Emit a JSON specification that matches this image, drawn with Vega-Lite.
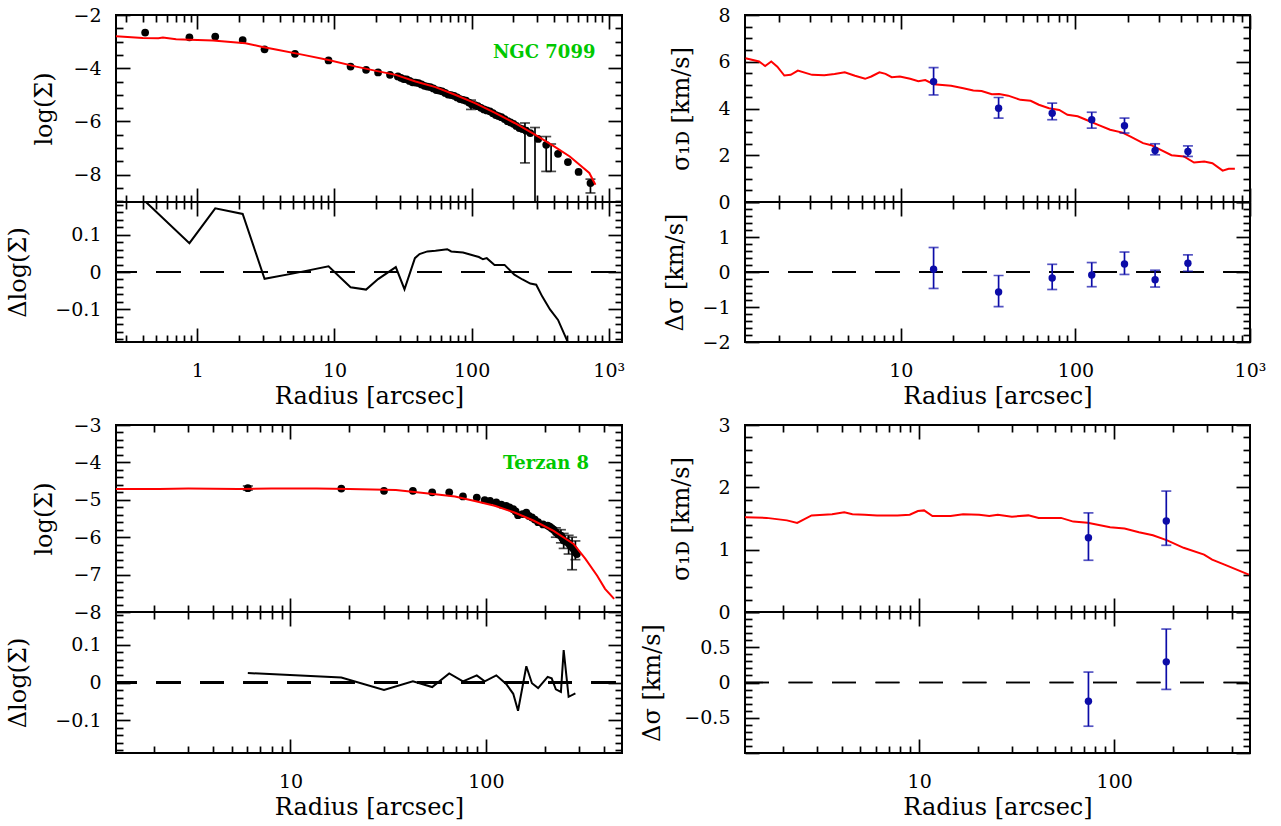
{
"$schema": "https://vega.github.io/schema/vega-lite/v6.json",
"autosize": {"type": "pad"},
"padding": {"left": 5, "top": 5, "right": 5, "bottom": 5},
"background": "white",
"config": {
  "view": {"stroke": "black", "strokeWidth": 2},
  "axis": {"domain": false, "grid": false, "ticks": true, "tickColor": "black", "tickWidth": 1.7,
           "labelFont": "DejaVu Serif", "labelFontSize": 19, "labelColor": "black",
           "titleFont": "DejaVu Serif", "titleFontSize": 24, "titleFontWeight": "normal", "titleColor": "black",
           "labelFlush": false, "labelOverlap": false, "labelBound": false}
},
"datasets": {
  "tl_obs": [{"r":0.416,"v":-2.66},{"r":0.875,"v":-2.84},{"r":1.35,"v":-2.81},{"r":2.14,"v":-2.94},{"r":3.09,"v":-3.29},{"r":5.15,"v":-3.46},{"r":9.05,"v":-3.71},{"r":13.1,"v":-3.94},{"r":17.0,"v":-4.06},{"r":20.8,"v":-4.16},{"r":25.4,"v":-4.25},{"r":29.0,"v":-4.31},{"r":30.5,"v":-4.36},{"r":32.0,"v":-4.41},{"r":33.6,"v":-4.42},{"r":35.3,"v":-4.48},{"r":37.1,"v":-4.53},{"r":39.0,"v":-4.54},{"r":41.0,"v":-4.56},{"r":43.1,"v":-4.61},{"r":45.3,"v":-4.66},{"r":47.6,"v":-4.69},{"r":50.0,"v":-4.71},{"r":52.6,"v":-4.76},{"r":55.3,"v":-4.82},{"r":58.1,"v":-4.84},{"r":61.0,"v":-4.87},{"r":64.2,"v":-4.93},{"r":67.5,"v":-4.99},{"r":71.0,"v":-5.01},{"r":74.6,"v":-5.04},{"r":78.4,"v":-5.10},{"r":82.4,"v":-5.16},{"r":86.6,"v":-5.19},{"r":91.0,"v":-5.22},{"r":95.7,"v":-5.29},{"r":100.5,"v":-5.36},{"r":106,"v":-5.39},{"r":111,"v":-5.43},{"r":117,"v":-5.49},{"r":123,"v":-5.55},{"r":129,"v":-5.59},{"r":136,"v":-5.62},{"r":143,"v":-5.69},{"r":150,"v":-5.76},{"r":157,"v":-5.80},{"r":165,"v":-5.84},{"r":174,"v":-5.91},{"r":183,"v":-5.99},{"r":192,"v":-6.04},{"r":202,"v":-6.09},{"r":212,"v":-6.17},{"r":223,"v":-6.25},{"r":235,"v":-6.29},{"r":250,"v":-6.35},{"r":268,"v":-6.44},{"r":306,"v":-6.66},{"r":350,"v":-6.88},{"r":427,"v":-7.22},{"r":504,"v":-7.53},{"r":603,"v":-7.90},{"r":736,"v":-8.32}],
  "tl_err": [{"r":99,"lo":-5.55,"hi":-5.20},{"r":245,"lo":-7.56,"hi":-6.06},{"r":290,"lo":-9.5,"hi":-6.23},{"r":350,"lo":-7.88,"hi":-6.57},{"r":380,"lo":-7.88,"hi":-6.85},{"r":736,"lo":-8.69,"hi":-8.17}],
  "tl_model": [{"r":0.255,"v":-2.80},{"r":0.40,"v":-2.86},{"r":0.52,"v":-2.87},{"r":0.56,"v":-2.85},{"r":0.70,"v":-2.91},{"r":0.88,"v":-2.93},{"r":1.3,"v":-2.96},{"r":2.24,"v":-3.06},{"r":2.93,"v":-3.19},{"r":3.82,"v":-3.31},{"r":5.69,"v":-3.48},{"r":9.05,"v":-3.69},{"r":14.4,"v":-3.94},{"r":20.1,"v":-4.10},{"r":28.0,"v":-4.25},{"r":39.0,"v":-4.50},{"r":54.5,"v":-4.71},{"r":75.8,"v":-5.00},{"r":106,"v":-5.31},{"r":147,"v":-5.67},{"r":206,"v":-6.06},{"r":286,"v":-6.48},{"r":400,"v":-6.94},{"r":520,"v":-7.32},{"r":613,"v":-7.63},{"r":722,"v":-7.94},{"r":800,"v":-8.38}],
  "tl_res": [{"r":0.413,"v":0.19},{"r":0.875,"v":0.077},{"r":1.35,"v":0.170},{"r":2.14,"v":0.155},{"r":3.09,"v":-0.018},{"r":5.15,"v":-0.003},{"r":9.05,"v":0.015},{"r":13.1,"v":-0.041},{"r":17.0,"v":-0.047},{"r":20.8,"v":-0.019},{"r":28.0,"v":0.013},{"r":32.4,"v":-0.046},{"r":38.6,"v":0.037},{"r":41.7,"v":0.048},{"r":47.6,"v":0.055},{"r":54.5,"v":0.057},{"r":66.4,"v":0.061},{"r":71.0,"v":0.055},{"r":86.6,"v":0.052},{"r":98.9,"v":0.046},{"r":113,"v":0.040},{"r":121,"v":0.034},{"r":129,"v":0.037},{"r":147,"v":0.019},{"r":174,"v":0.019},{"r":205,"v":-0.007},{"r":235,"v":-0.020},{"r":268,"v":-0.031},{"r":296,"v":-0.034},{"r":327,"v":-0.065},{"r":373,"v":-0.100},{"r":427,"v":-0.128},{"r":504,"v":-0.188},{"r":603,"v":-0.28},{"r":736,"v":-0.38}],
  "tr_obs": [{"r":15.4,"v":5.15,"lo":4.58,"hi":5.75},{"r":36.3,"v":4.01,"lo":3.59,"hi":4.47},{"r":73.6,"v":3.80,"lo":3.52,"hi":4.23},{"r":124,"v":3.52,"lo":3.16,"hi":3.84},{"r":191,"v":3.26,"lo":2.95,"hi":3.59},{"r":286,"v":2.20,"lo":2.02,"hi":2.49},{"r":441,"v":2.16,"lo":1.95,"hi":2.40}],
  "tr_res": [{"r":15.4,"v":0.08,"lo":-0.47,"hi":0.70},{"r":36.3,"v":-0.57,"lo":-0.99,"hi":-0.10},{"r":73.6,"v":-0.17,"lo":-0.50,"hi":0.22},{"r":124,"v":-0.085,"lo":-0.42,"hi":0.27},{"r":191,"v":0.23,"lo":-0.07,"hi":0.57},{"r":286,"v":-0.22,"lo":-0.43,"hi":0.05},{"r":441,"v":0.25,"lo":0.02,"hi":0.49}],
  "tr_model": [{"r":1.29,"v":6.15},{"r":1.54,"v":6.01},{"r":1.67,"v":5.82},{"r":1.81,"v":6.01},{"r":1.96,"v":5.79},{"r":2.15,"v":5.41},{"r":2.34,"v":5.44},{"r":2.57,"v":5.62},{"r":3.10,"v":5.44},{"r":3.64,"v":5.42},{"r":4.17,"v":5.48},{"r":4.77,"v":5.55},{"r":5.46,"v":5.40},{"r":6.24,"v":5.27},{"r":6.77,"v":5.37},{"r":7.54,"v":5.55},{"r":8.17,"v":5.48},{"r":8.86,"v":5.34},{"r":9.87,"v":5.37},{"r":11.3,"v":5.27},{"r":12.6,"v":5.17},{"r":13.8,"v":5.22},{"r":15.4,"v":5.04},{"r":19.4,"v":4.97},{"r":22.8,"v":4.87},{"r":26.0,"v":4.77},{"r":29.0,"v":4.75},{"r":33.2,"v":4.61},{"r":36.6,"v":4.62},{"r":41.2,"v":4.55},{"r":48.4,"v":4.37},{"r":55.4,"v":4.33},{"r":61.7,"v":4.16},{"r":70.6,"v":4.01},{"r":80.8,"v":3.94},{"r":90.0,"v":3.73},{"r":103,"v":3.67},{"r":115,"v":3.52},{"r":135,"v":3.30},{"r":158,"v":3.09},{"r":186,"v":2.97},{"r":207,"v":2.80},{"r":244,"v":2.52},{"r":272,"v":2.43},{"r":302,"v":2.26},{"r":355,"v":2.00},{"r":418,"v":1.95},{"r":478,"v":1.69},{"r":547,"v":1.73},{"r":609,"v":1.66},{"r":697,"v":1.34},{"r":755,"v":1.42},{"r":819,"v":1.42}],
  "bl_obs": [{"r":6.05,"v":-4.69},{"r":18.2,"v":-4.70},{"r":30.1,"v":-4.76},{"r":42.3,"v":-4.76},{"r":53.1,"v":-4.80},{"r":64.9,"v":-4.80},{"r":76.3,"v":-4.91},{"r":89.8,"v":-4.94},{"r":98.6,"v":-5.01},{"r":105,"v":-5.03},{"r":113,"v":-5.07},{"r":120,"v":-5.13},{"r":127,"v":-5.16},{"r":132,"v":-5.20},{"r":138,"v":-5.25},{"r":142,"v":-5.31},{"r":146,"v":-5.41},{"r":154,"v":-5.38},{"r":161,"v":-5.34},{"r":166,"v":-5.43},{"r":172,"v":-5.47},{"r":178,"v":-5.53},{"r":185,"v":-5.60},{"r":196,"v":-5.66},{"r":207,"v":-5.69},{"r":212,"v":-5.72},{"r":217,"v":-5.76},{"r":222,"v":-5.80},{"r":228,"v":-5.87},{"r":235,"v":-5.93},{"r":242,"v":-5.96},{"r":246,"v":-6.02},{"r":250,"v":-6.09},{"r":258,"v":-6.12},{"r":265,"v":-6.16},{"r":270,"v":-6.22},{"r":276,"v":-6.27},{"r":282,"v":-6.33},{"r":287,"v":-6.40},{"r":292,"v":-6.45}],
  "bl_err": [{"r":6.05,"lo":-4.74,"hi":-4.63},{"r":228,"lo":-6.00,"hi":-5.75},{"r":242,"lo":-6.15,"hi":-5.80},{"r":250,"lo":-6.30,"hi":-5.90},{"r":265,"lo":-6.45,"hi":-5.95},{"r":276,"lo":-6.87,"hi":-6.00},{"r":287,"lo":-6.60,"hi":-6.10}],
  "bl_model": [{"r":1.28,"v":-4.71},{"r":2.13,"v":-4.71},{"r":3.0,"v":-4.70},{"r":5.4,"v":-4.71},{"r":8.0,"v":-4.70},{"r":13.6,"v":-4.70},{"r":20,"v":-4.71},{"r":34.6,"v":-4.74},{"r":55.1,"v":-4.85},{"r":69.5,"v":-4.91},{"r":87.7,"v":-5.03},{"r":111,"v":-5.16},{"r":140,"v":-5.34},{"r":176,"v":-5.56},{"r":222,"v":-5.83},{"r":281,"v":-6.18},{"r":323,"v":-6.58},{"r":371,"v":-7.03},{"r":407,"v":-7.38},{"r":453,"v":-7.65}],
  "bl_res": [{"r":6.05,"v":0.025},{"r":18.2,"v":0.013},{"r":30.1,"v":-0.020},{"r":42.3,"v":0.003},{"r":53.1,"v":-0.012},{"r":64.9,"v":0.024},{"r":76.3,"v":0.003},{"r":89.8,"v":0.019},{"r":98.6,"v":0.003},{"r":113,"v":0.019},{"r":127,"v":-0.004},{"r":138,"v":-0.030},{"r":146,"v":-0.075},{"r":161,"v":0.043},{"r":172,"v":-0.002},{"r":185,"v":-0.015},{"r":207,"v":0.015},{"r":217,"v":0.011},{"r":228,"v":-0.018},{"r":242,"v":-0.025},{"r":250,"v":0.086},{"r":265,"v":-0.038},{"r":287,"v":-0.029}],
  "br_obs": [{"r":73.8,"v":1.19,"lo":0.83,"hi":1.59},{"r":185,"v":1.46,"lo":1.07,"hi":1.94}],
  "br_res": [{"r":73.8,"v":-0.265,"lo":-0.62,"hi":0.148},{"r":185,"v":0.293,"lo":-0.098,"hi":0.758}],
  "br_model": [{"r":1.28,"v":1.52},{"r":1.65,"v":1.51},{"r":2.10,"v":1.47},{"r":2.37,"v":1.43},{"r":2.81,"v":1.55},{"r":3.58,"v":1.57},{"r":4.13,"v":1.60},{"r":4.55,"v":1.57},{"r":5.26,"v":1.56},{"r":6.08,"v":1.55},{"r":7.74,"v":1.55},{"r":8.95,"v":1.56},{"r":9.86,"v":1.62},{"r":10.6,"v":1.63},{"r":11.7,"v":1.54},{"r":14.5,"v":1.54},{"r":16.8,"v":1.57},{"r":20.3,"v":1.56},{"r":22.9,"v":1.54},{"r":25.3,"v":1.56},{"r":29.9,"v":1.53},{"r":36.3,"v":1.55},{"r":41.0,"v":1.51},{"r":53.4,"v":1.51},{"r":61.7,"v":1.45},{"r":73.1,"v":1.43},{"r":95.3,"v":1.36},{"r":113,"v":1.34},{"r":134,"v":1.28},{"r":158,"v":1.23},{"r":187,"v":1.15},{"r":227,"v":1.03},{"r":289,"v":0.92},{"r":318,"v":0.84},{"r":368,"v":0.76},{"r":490,"v":0.60}]
},
"columns": 2,
"spacing": {"row": 0, "column": 123},
"bounds": "flush",
"concat": [
   {"width": 506, "height": 187,
    "layer": [
     {"data": {"name": "tl_err"}, "mark": {"type": "rule", "color": "black", "strokeWidth": 1.7, "clip": true},
      "encoding": {
       "x": {"field": "r", "type": "quantitative", "scale": {"type": "log", "domain": [0.255, 1250], "nice": false},
             "axis": {"orient": "bottom", "values": [0.3,0.4,0.5,0.6,0.7,0.8,0.9,1,2,3,4,5,6,7,8,9,10,20,30,40,50,60,70,80,90,100,200,300,400,500,600,700,800,900,1000], "tickSize": {"condition": {"test": "indexof([1,10,100,1000],datum.value)>=0", "value": -14}, "value": -7}, "labels": false, "title": null}},
       "y": {"field": "lo", "type": "quantitative", "scale": {"domain": [-9.03, -2], "nice": false, "zero": false},
             "axis": {"orient": "left", "values": [-9,-8.5,-8,-7.5,-7,-6.5,-6,-5.5,-5,-4.5,-4,-3.5,-3,-2.5,-2], "tickSize": {"condition": {"test": "datum.value%2==0", "value": -14}, "value": -7}, "labelExpr": "datum.value%2==0?format(datum.value,'d'):''", "labelPadding": 29, "title": "log(Σ)", "titleX": -60}},
       "y2": {"field": "hi"}}},
     {"data": {"name": "tl_err"}, "mark": {"type": "tick", "orient": "horizontal", "size": 10, "thickness": 1.7, "color": "black", "clip": true},
      "encoding": {
       "x": {"field": "r", "type": "quantitative", "scale": {"type": "log", "domain": [0.255, 1250], "nice": false},
             "axis": {"orient": "top", "values": [0.3,0.4,0.5,0.6,0.7,0.8,0.9,1,2,3,4,5,6,7,8,9,10,20,30,40,50,60,70,80,90,100,200,300,400,500,600,700,800,900,1000], "tickSize": {"condition": {"test": "indexof([1,10,100,1000],datum.value)>=0", "value": -14}, "value": -7}, "labels": false, "title": null}},
       "y": {"field": "lo", "type": "quantitative", "scale": {"domain": [-9.03, -2], "nice": false, "zero": false},
             "axis": {"orient": "right", "values": [-9,-8.5,-8,-7.5,-7,-6.5,-6,-5.5,-5,-4.5,-4,-3.5,-3,-2.5,-2], "tickSize": {"condition": {"test": "datum.value%2==0", "value": -14}, "value": -7}, "labels": false, "title": null}}}},
     {"data": {"name": "tl_err"}, "mark": {"type": "tick", "orient": "horizontal", "size": 10, "thickness": 1.7, "color": "black", "clip": true},
      "encoding": {"x": {"field": "r", "type": "quantitative", "axis": null}, "y": {"field": "hi", "type": "quantitative", "axis": null}}},
     {"data": {"name": "tl_obs"}, "mark": {"type": "circle", "size": 60, "color": "black", "opacity": 1, "clip": true},
      "encoding": {"x": {"field": "r", "type": "quantitative", "axis": null}, "y": {"field": "v", "type": "quantitative", "axis": null}}},
     {"data": {"name": "tl_model"}, "mark": {"type": "line", "color": "#ff0000", "strokeWidth": 2, "clip": true},
      "encoding": {"x": {"field": "r", "type": "quantitative", "axis": null}, "y": {"field": "v", "type": "quantitative", "axis": null}}},
     {"data": {"values": [{"name": "NGC 7099"}]}, "mark": {"type": "text", "color": "#00c800", "font": "DejaVu Serif", "fontSize": 18, "fontWeight": "bold", "align": "right", "baseline": "middle"},
      "encoding": {"x": {"datum": 800, "type": "quantitative", "axis": null}, "y": {"datum": -3.43, "type": "quantitative", "axis": null}, "text": {"field": "name"}}}
    ],
    "resolve": {"axis": {"x": "independent", "y": "independent"}}},
   {"width": 505, "height": 187,
    "layer": [
     {"data": {"name": "tr_model"}, "mark": {"type": "line", "color": "#ff0000", "strokeWidth": 2, "clip": true},
      "encoding": {
       "x": {"field": "r", "type": "quantitative", "scale": {"type": "log", "domain": [1.28, 1000], "nice": false},
             "axis": {"orient": "bottom", "values": [2,3,4,5,6,7,8,9,10,20,30,40,50,60,70,80,90,100,200,300,400,500,600,700,800,900,1000], "tickSize": {"condition": {"test": "indexof([1,10,100,1000],datum.value)>=0", "value": -14}, "value": -7}, "labels": false, "title": null}},
       "y": {"field": "v", "type": "quantitative", "scale": {"domain": [0, 8], "nice": false, "zero": false},
             "axis": {"orient": "left", "values": [0,0.5,1,1.5,2,2.5,3,3.5,4,4.5,5,5.5,6,6.5,7,7.5,8], "tickSize": {"condition": {"test": "datum.value%2==0", "value": -14}, "value": -7}, "labelExpr": "datum.value%2==0?format(datum.value,'d'):''", "labelPadding": 29, "title": "σ₁ᴅ  [km/s]", "titleX": -52}}}},
     {"data": {"name": "tr_obs"}, "mark": {"type": "rule", "color": "#0c0ca8", "strokeWidth": 1.7},
      "encoding": {
       "x": {"field": "r", "type": "quantitative", "scale": {"type": "log", "domain": [1.28, 1000], "nice": false},
             "axis": {"orient": "top", "values": [2,3,4,5,6,7,8,9,10,20,30,40,50,60,70,80,90,100,200,300,400,500,600,700,800,900,1000], "tickSize": {"condition": {"test": "indexof([1,10,100,1000],datum.value)>=0", "value": -14}, "value": -7}, "labels": false, "title": null}},
       "y": {"field": "lo", "type": "quantitative", "scale": {"domain": [0, 8], "nice": false, "zero": false},
             "axis": {"orient": "right", "values": [0,0.5,1,1.5,2,2.5,3,3.5,4,4.5,5,5.5,6,6.5,7,7.5,8], "tickSize": {"condition": {"test": "datum.value%2==0", "value": -14}, "value": -7}, "labels": false, "title": null}},
       "y2": {"field": "hi"}}},
     {"data": {"name": "tr_obs"}, "mark": {"type": "tick", "orient": "horizontal", "size": 10, "thickness": 1.7, "color": "#0c0ca8"},
      "encoding": {"x": {"field": "r", "type": "quantitative", "axis": null}, "y": {"field": "lo", "type": "quantitative", "axis": null}}},
     {"data": {"name": "tr_obs"}, "mark": {"type": "tick", "orient": "horizontal", "size": 10, "thickness": 1.7, "color": "#0c0ca8"},
      "encoding": {"x": {"field": "r", "type": "quantitative", "axis": null}, "y": {"field": "hi", "type": "quantitative", "axis": null}}},
     {"data": {"name": "tr_obs"}, "mark": {"type": "circle", "size": 55, "color": "#0c0ca8", "opacity": 1},
      "encoding": {"x": {"field": "r", "type": "quantitative", "axis": null}, "y": {"field": "v", "type": "quantitative", "axis": null}}}
    ],
    "resolve": {"axis": {"x": "independent", "y": "independent"}}},
   {"width": 506, "height": 140,
    "layer": [
     {"data": {"name": "tl_res"}, "mark": {"type": "rule", "color": "black", "strokeWidth": 1.7, "strokeDash": [24, 19.5], "strokeDashOffset": 3},
      "encoding": {
       "x": {"datum": 0.255, "type": "quantitative", "scale": {"type": "log", "domain": [0.255, 1250], "nice": false},
             "axis": {"orient": "top", "values": [0.3,0.4,0.5,0.6,0.7,0.8,0.9,1,2,3,4,5,6,7,8,9,10,20,30,40,50,60,70,80,90,100,200,300,400,500,600,700,800,900,1000], "tickSize": {"condition": {"test": "indexof([1,10,100,1000],datum.value)>=0", "value": -14}, "value": -7}, "labels": false, "title": null}},
       "x2": {"datum": 1250},
       "y": {"datum": 0, "type": "quantitative", "scale": {"domain": [-0.187, 0.187], "nice": false, "zero": false},
             "axis": {"orient": "right", "values": [-0.18,-0.16,-0.14,-0.12,-0.1,-0.08,-0.06,-0.04,-0.02,0,0.02,0.04,0.06,0.08,0.1,0.12,0.14,0.16,0.18], "tickSize": {"condition": {"test": "abs(datum.value)<1e-9||abs(abs(datum.value)-0.1)<1e-9", "value": -14}, "value": -7}, "labels": false, "title": null}}}},
     {"data": {"name": "tl_res"}, "mark": {"type": "line", "color": "black", "strokeWidth": 2, "clip": true},
      "encoding": {
       "x": {"field": "r", "type": "quantitative", "scale": {"type": "log", "domain": [0.255, 1250], "nice": false},
             "axis": {"orient": "bottom", "values": [0.3,0.4,0.5,0.6,0.7,0.8,0.9,1,2,3,4,5,6,7,8,9,10,20,30,40,50,60,70,80,90,100,200,300,400,500,600,700,800,900,1000], "tickSize": {"condition": {"test": "indexof([1,10,100,1000],datum.value)>=0", "value": -14}, "value": -7}, "labelExpr": "datum.value==1000?'10³':(indexof([1,10,100],datum.value)>=0?''+datum.value:'')", "labelPadding": 33, "title": "Radius [arcsec]", "titlePadding": -3}},
       "y": {"field": "v", "type": "quantitative", "scale": {"domain": [-0.187, 0.187], "nice": false, "zero": false},
             "axis": {"orient": "left", "values": [-0.18,-0.16,-0.14,-0.12,-0.1,-0.08,-0.06,-0.04,-0.02,0,0.02,0.04,0.06,0.08,0.1,0.12,0.14,0.16,0.18], "tickSize": {"condition": {"test": "abs(datum.value)<1e-9||abs(abs(datum.value)-0.1)<1e-9", "value": -14}, "value": -7}, "labelExpr": "(abs(datum.value)<1e-9||abs(abs(datum.value)-0.1)<1e-9)?format(datum.value,'.1~f'):''", "labelPadding": 29, "title": "Δlog(Σ)", "titleX": -86}}}}
    ],
    "resolve": {"axis": {"x": "independent", "y": "independent"}}},
   {"width": 505, "height": 140,
    "layer": [
     {"data": {"name": "tr_res"}, "mark": {"type": "rule", "color": "black", "strokeWidth": 1.7, "strokeDash": [24, 19.5]},
      "encoding": {
       "x": {"datum": 1.28, "type": "quantitative", "scale": {"type": "log", "domain": [1.28, 1000], "nice": false},
             "axis": {"orient": "top", "values": [2,3,4,5,6,7,8,9,10,20,30,40,50,60,70,80,90,100,200,300,400,500,600,700,800,900,1000], "tickSize": {"condition": {"test": "indexof([1,10,100,1000],datum.value)>=0", "value": -14}, "value": -7}, "labels": false, "title": null}},
       "x2": {"datum": 1000},
       "y": {"datum": 0, "type": "quantitative", "scale": {"domain": [-2, 2], "nice": false, "zero": false},
             "axis": {"orient": "right", "values": [-2,-1.8,-1.6,-1.4,-1.2,-1,-0.8,-0.6,-0.4,-0.2,0,0.2,0.4,0.6,0.8,1,1.2,1.4,1.6,1.8,2], "tickSize": {"condition": {"test": "abs(datum.value-round(datum.value))<1e-9", "value": -14}, "value": -7}, "labels": false, "title": null}}}},
     {"data": {"name": "tr_res"}, "mark": {"type": "rule", "color": "#0c0ca8", "strokeWidth": 1.7},
      "encoding": {
       "x": {"field": "r", "type": "quantitative", "scale": {"type": "log", "domain": [1.28, 1000], "nice": false},
             "axis": {"orient": "bottom", "values": [2,3,4,5,6,7,8,9,10,20,30,40,50,60,70,80,90,100,200,300,400,500,600,700,800,900,1000], "tickSize": {"condition": {"test": "indexof([1,10,100,1000],datum.value)>=0", "value": -14}, "value": -7}, "labelExpr": "datum.value==1000?'10³':(indexof([1,10,100],datum.value)>=0?''+datum.value:'')", "labelPadding": 33, "title": "Radius [arcsec]", "titlePadding": -3}},
       "y": {"field": "lo", "type": "quantitative", "scale": {"domain": [-2, 2], "nice": false, "zero": false},
             "axis": {"orient": "left", "values": [-2,-1.8,-1.6,-1.4,-1.2,-1,-0.8,-0.6,-0.4,-0.2,0,0.2,0.4,0.6,0.8,1,1.2,1.4,1.6,1.8,2], "tickSize": {"condition": {"test": "abs(datum.value-round(datum.value))<1e-9", "value": -14}, "value": -7}, "labelExpr": "abs(datum.value-round(datum.value))<1e-9&&datum.value<1.5?format(datum.value,'d'):''", "labelPadding": 29, "title": "Δσ  [km/s]", "titleX": -58}},
       "y2": {"field": "hi"}}},
     {"data": {"name": "tr_res"}, "mark": {"type": "tick", "orient": "horizontal", "size": 10, "thickness": 1.7, "color": "#0c0ca8"},
      "encoding": {"x": {"field": "r", "type": "quantitative", "axis": null}, "y": {"field": "lo", "type": "quantitative", "axis": null}}},
     {"data": {"name": "tr_res"}, "mark": {"type": "tick", "orient": "horizontal", "size": 10, "thickness": 1.7, "color": "#0c0ca8"},
      "encoding": {"x": {"field": "r", "type": "quantitative", "axis": null}, "y": {"field": "hi", "type": "quantitative", "axis": null}}},
     {"data": {"name": "tr_res"}, "mark": {"type": "circle", "size": 55, "color": "#0c0ca8", "opacity": 1},
      "encoding": {"x": {"field": "r", "type": "quantitative", "axis": null}, "y": {"field": "v", "type": "quantitative", "axis": null}}}
    ],
    "resolve": {"axis": {"x": "independent", "y": "independent"}}},
   {"width": 506, "height": 83, "data": {"values": []}, "mark": {"type": "point", "opacity": 0}, "view": {"stroke": null}},
   {"width": 505, "height": 83, "data": {"values": []}, "mark": {"type": "point", "opacity": 0}, "view": {"stroke": null}},
   {"width": 506, "height": 187,
    "layer": [
     {"data": {"name": "bl_err"}, "mark": {"type": "rule", "color": "black", "strokeWidth": 1.7, "clip": true},
      "encoding": {
       "x": {"field": "r", "type": "quantitative", "scale": {"type": "log", "domain": [1.28, 497], "nice": false},
             "axis": {"orient": "bottom", "values": [2,3,4,5,6,7,8,9,10,20,30,40,50,60,70,80,90,100,200,300,400], "tickSize": {"condition": {"test": "indexof([1,10,100,1000],datum.value)>=0", "value": -14}, "value": -7}, "labels": false, "title": null}},
       "y": {"field": "lo", "type": "quantitative", "scale": {"domain": [-8, -3], "nice": false, "zero": false},
             "axis": {"orient": "left", "values": [-8,-7.8,-7.6,-7.4,-7.2,-7,-6.8,-6.6,-6.4,-6.2,-6,-5.8,-5.6,-5.4,-5.2,-5,-4.8,-4.6,-4.4,-4.2,-4,-3.8,-3.6,-3.4,-3.2,-3], "tickSize": {"condition": {"test": "abs(datum.value-round(datum.value))<1e-9", "value": -14}, "value": -7}, "labelExpr": "abs(datum.value-round(datum.value))<1e-9?format(datum.value,'d'):''", "labelPadding": 29, "title": "log(Σ)", "titleX": -60}},
       "y2": {"field": "hi"}}},
     {"data": {"name": "bl_err"}, "mark": {"type": "tick", "orient": "horizontal", "size": 10, "thickness": 1.7, "color": "black", "clip": true},
      "encoding": {
       "x": {"field": "r", "type": "quantitative", "scale": {"type": "log", "domain": [1.28, 497], "nice": false},
             "axis": {"orient": "top", "values": [2,3,4,5,6,7,8,9,10,20,30,40,50,60,70,80,90,100,200,300,400], "tickSize": {"condition": {"test": "indexof([1,10,100,1000],datum.value)>=0", "value": -14}, "value": -7}, "labels": false, "title": null}},
       "y": {"field": "lo", "type": "quantitative", "scale": {"domain": [-8, -3], "nice": false, "zero": false},
             "axis": {"orient": "right", "values": [-8,-7.8,-7.6,-7.4,-7.2,-7,-6.8,-6.6,-6.4,-6.2,-6,-5.8,-5.6,-5.4,-5.2,-5,-4.8,-4.6,-4.4,-4.2,-4,-3.8,-3.6,-3.4,-3.2,-3], "tickSize": {"condition": {"test": "abs(datum.value-round(datum.value))<1e-9", "value": -14}, "value": -7}, "labels": false, "title": null}}}},
     {"data": {"name": "bl_err"}, "mark": {"type": "tick", "orient": "horizontal", "size": 10, "thickness": 1.7, "color": "black", "clip": true},
      "encoding": {"x": {"field": "r", "type": "quantitative", "axis": null}, "y": {"field": "hi", "type": "quantitative", "axis": null}}},
     {"data": {"name": "bl_obs"}, "mark": {"type": "circle", "size": 60, "color": "black", "opacity": 1, "clip": true},
      "encoding": {"x": {"field": "r", "type": "quantitative", "axis": null}, "y": {"field": "v", "type": "quantitative", "axis": null}}},
     {"data": {"name": "bl_model"}, "mark": {"type": "line", "color": "#ff0000", "strokeWidth": 2, "clip": true},
      "encoding": {"x": {"field": "r", "type": "quantitative", "axis": null}, "y": {"field": "v", "type": "quantitative", "axis": null}}},
     {"data": {"values": [{"name": "Terzan 8"}]}, "mark": {"type": "text", "color": "#00c800", "font": "DejaVu Serif", "fontSize": 18, "fontWeight": "bold", "align": "right", "baseline": "middle"},
      "encoding": {"x": {"datum": 337, "type": "quantitative", "axis": null}, "y": {"datum": -4.03, "type": "quantitative", "axis": null}, "text": {"field": "name"}}}
    ],
    "resolve": {"axis": {"x": "independent", "y": "independent"}}},
   {"width": 505, "height": 187,
    "layer": [
     {"data": {"name": "br_model"}, "mark": {"type": "line", "color": "#ff0000", "strokeWidth": 2, "clip": true},
      "encoding": {
       "x": {"field": "r", "type": "quantitative", "scale": {"type": "log", "domain": [1.28, 497], "nice": false},
             "axis": {"orient": "bottom", "values": [2,3,4,5,6,7,8,9,10,20,30,40,50,60,70,80,90,100,200,300,400], "tickSize": {"condition": {"test": "indexof([1,10,100,1000],datum.value)>=0", "value": -14}, "value": -7}, "labels": false, "title": null}},
       "y": {"field": "v", "type": "quantitative", "scale": {"domain": [0, 3], "nice": false, "zero": false},
             "axis": {"orient": "left", "values": [0,0.2,0.4,0.6,0.8,1,1.2,1.4,1.6,1.8,2,2.2,2.4,2.6,2.8,3], "tickSize": {"condition": {"test": "abs(datum.value-round(datum.value))<1e-9", "value": -14}, "value": -7}, "labelExpr": "abs(datum.value-round(datum.value))<1e-9?format(datum.value,'d'):''", "labelPadding": 29, "title": "σ₁ᴅ  [km/s]", "titleX": -52}}}},
     {"data": {"name": "br_obs"}, "mark": {"type": "rule", "color": "#0c0ca8", "strokeWidth": 1.7},
      "encoding": {
       "x": {"field": "r", "type": "quantitative", "scale": {"type": "log", "domain": [1.28, 497], "nice": false},
             "axis": {"orient": "top", "values": [2,3,4,5,6,7,8,9,10,20,30,40,50,60,70,80,90,100,200,300,400], "tickSize": {"condition": {"test": "indexof([1,10,100,1000],datum.value)>=0", "value": -14}, "value": -7}, "labels": false, "title": null}},
       "y": {"field": "lo", "type": "quantitative", "scale": {"domain": [0, 3], "nice": false, "zero": false},
             "axis": {"orient": "right", "values": [0,0.2,0.4,0.6,0.8,1,1.2,1.4,1.6,1.8,2,2.2,2.4,2.6,2.8,3], "tickSize": {"condition": {"test": "abs(datum.value-round(datum.value))<1e-9", "value": -14}, "value": -7}, "labels": false, "title": null}},
       "y2": {"field": "hi"}}},
     {"data": {"name": "br_obs"}, "mark": {"type": "tick", "orient": "horizontal", "size": 10, "thickness": 1.7, "color": "#0c0ca8"},
      "encoding": {"x": {"field": "r", "type": "quantitative", "axis": null}, "y": {"field": "lo", "type": "quantitative", "axis": null}}},
     {"data": {"name": "br_obs"}, "mark": {"type": "tick", "orient": "horizontal", "size": 10, "thickness": 1.7, "color": "#0c0ca8"},
      "encoding": {"x": {"field": "r", "type": "quantitative", "axis": null}, "y": {"field": "hi", "type": "quantitative", "axis": null}}},
     {"data": {"name": "br_obs"}, "mark": {"type": "circle", "size": 55, "color": "#0c0ca8", "opacity": 1},
      "encoding": {"x": {"field": "r", "type": "quantitative", "axis": null}, "y": {"field": "v", "type": "quantitative", "axis": null}}}
    ],
    "resolve": {"axis": {"x": "independent", "y": "independent"}}},
   {"width": 506, "height": 141,
    "layer": [
     {"data": {"name": "bl_res"}, "mark": {"type": "rule", "color": "black", "strokeWidth": 1.7, "strokeDash": [24, 19.5], "strokeDashOffset": 3},
      "encoding": {
       "x": {"datum": 1.28, "type": "quantitative", "scale": {"type": "log", "domain": [1.28, 497], "nice": false},
             "axis": {"orient": "top", "values": [2,3,4,5,6,7,8,9,10,20,30,40,50,60,70,80,90,100,200,300,400], "tickSize": {"condition": {"test": "indexof([1,10,100,1000],datum.value)>=0", "value": -14}, "value": -7}, "labels": false, "title": null}},
       "x2": {"datum": 497},
       "y": {"datum": 0, "type": "quantitative", "scale": {"domain": [-0.187, 0.187], "nice": false, "zero": false},
             "axis": {"orient": "right", "values": [-0.18,-0.16,-0.14,-0.12,-0.1,-0.08,-0.06,-0.04,-0.02,0,0.02,0.04,0.06,0.08,0.1,0.12,0.14,0.16,0.18], "tickSize": {"condition": {"test": "abs(datum.value)<1e-9||abs(abs(datum.value)-0.1)<1e-9", "value": -14}, "value": -7}, "labels": false, "title": null}}}},
     {"data": {"name": "bl_res"}, "mark": {"type": "line", "color": "black", "strokeWidth": 2, "clip": true},
      "encoding": {
       "x": {"field": "r", "type": "quantitative", "scale": {"type": "log", "domain": [1.28, 497], "nice": false},
             "axis": {"orient": "bottom", "values": [2,3,4,5,6,7,8,9,10,20,30,40,50,60,70,80,90,100,200,300,400], "tickSize": {"condition": {"test": "indexof([1,10,100,1000],datum.value)>=0", "value": -14}, "value": -7}, "labelExpr": "indexof([10,100],datum.value)>=0?''+datum.value:''", "labelPadding": 33, "title": "Radius [arcsec]", "titlePadding": -3}},
       "y": {"field": "v", "type": "quantitative", "scale": {"domain": [-0.187, 0.187], "nice": false, "zero": false},
             "axis": {"orient": "left", "values": [-0.18,-0.16,-0.14,-0.12,-0.1,-0.08,-0.06,-0.04,-0.02,0,0.02,0.04,0.06,0.08,0.1,0.12,0.14,0.16,0.18], "tickSize": {"condition": {"test": "abs(datum.value)<1e-9||abs(abs(datum.value)-0.1)<1e-9", "value": -14}, "value": -7}, "labelExpr": "(abs(datum.value)<1e-9||abs(abs(datum.value)-0.1)<1e-9)?format(datum.value,'.1~f'):''", "labelPadding": 29, "title": "Δlog(Σ)", "titleX": -86}}}}
    ],
    "resolve": {"axis": {"x": "independent", "y": "independent"}}},
   {"width": 505, "height": 141,
    "layer": [
     {"data": {"name": "br_res"}, "mark": {"type": "rule", "color": "black", "strokeWidth": 1.7, "strokeDash": [24, 19.5]},
      "encoding": {
       "x": {"datum": 1.28, "type": "quantitative", "scale": {"type": "log", "domain": [1.28, 497], "nice": false},
             "axis": {"orient": "top", "values": [2,3,4,5,6,7,8,9,10,20,30,40,50,60,70,80,90,100,200,300,400], "tickSize": {"condition": {"test": "indexof([1,10,100,1000],datum.value)>=0", "value": -14}, "value": -7}, "labels": false, "title": null}},
       "x2": {"datum": 497},
       "y": {"datum": 0, "type": "quantitative", "scale": {"domain": [-1, 1], "nice": false, "zero": false},
             "axis": {"orient": "right", "values": [-1,-0.9,-0.8,-0.7,-0.6,-0.5,-0.4,-0.3,-0.2,-0.1,0,0.1,0.2,0.3,0.4,0.5,0.6,0.7,0.8,0.9,1], "tickSize": {"condition": {"test": "abs(datum.value*2-round(datum.value*2))<1e-9", "value": -14}, "value": -7}, "labels": false, "title": null}}}},
     {"data": {"name": "br_res"}, "mark": {"type": "rule", "color": "#0c0ca8", "strokeWidth": 1.7},
      "encoding": {
       "x": {"field": "r", "type": "quantitative", "scale": {"type": "log", "domain": [1.28, 497], "nice": false},
             "axis": {"orient": "bottom", "values": [2,3,4,5,6,7,8,9,10,20,30,40,50,60,70,80,90,100,200,300,400], "tickSize": {"condition": {"test": "indexof([1,10,100,1000],datum.value)>=0", "value": -14}, "value": -7}, "labelExpr": "indexof([10,100],datum.value)>=0?''+datum.value:''", "labelPadding": 33, "title": "Radius [arcsec]", "titlePadding": -3}},
       "y": {"field": "lo", "type": "quantitative", "scale": {"domain": [-1, 1], "nice": false, "zero": false},
             "axis": {"orient": "left", "values": [-1,-0.9,-0.8,-0.7,-0.6,-0.5,-0.4,-0.3,-0.2,-0.1,0,0.1,0.2,0.3,0.4,0.5,0.6,0.7,0.8,0.9,1], "tickSize": {"condition": {"test": "abs(datum.value*2-round(datum.value*2))<1e-9", "value": -14}, "value": -7}, "labelExpr": "abs(datum.value*2-round(datum.value*2))<1e-9&&abs(datum.value)<0.9?format(datum.value,'.1~f'):''", "labelPadding": 29, "title": "Δσ  [km/s]", "titleX": -81}},
       "y2": {"field": "hi"}}},
     {"data": {"name": "br_res"}, "mark": {"type": "tick", "orient": "horizontal", "size": 10, "thickness": 1.7, "color": "#0c0ca8"},
      "encoding": {"x": {"field": "r", "type": "quantitative", "axis": null}, "y": {"field": "lo", "type": "quantitative", "axis": null}}},
     {"data": {"name": "br_res"}, "mark": {"type": "tick", "orient": "horizontal", "size": 10, "thickness": 1.7, "color": "#0c0ca8"},
      "encoding": {"x": {"field": "r", "type": "quantitative", "axis": null}, "y": {"field": "hi", "type": "quantitative", "axis": null}}},
     {"data": {"name": "br_res"}, "mark": {"type": "circle", "size": 55, "color": "#0c0ca8", "opacity": 1},
      "encoding": {"x": {"field": "r", "type": "quantitative", "axis": null}, "y": {"field": "v", "type": "quantitative", "axis": null}}}
    ],
    "resolve": {"axis": {"x": "independent", "y": "independent"}}}
]
}
